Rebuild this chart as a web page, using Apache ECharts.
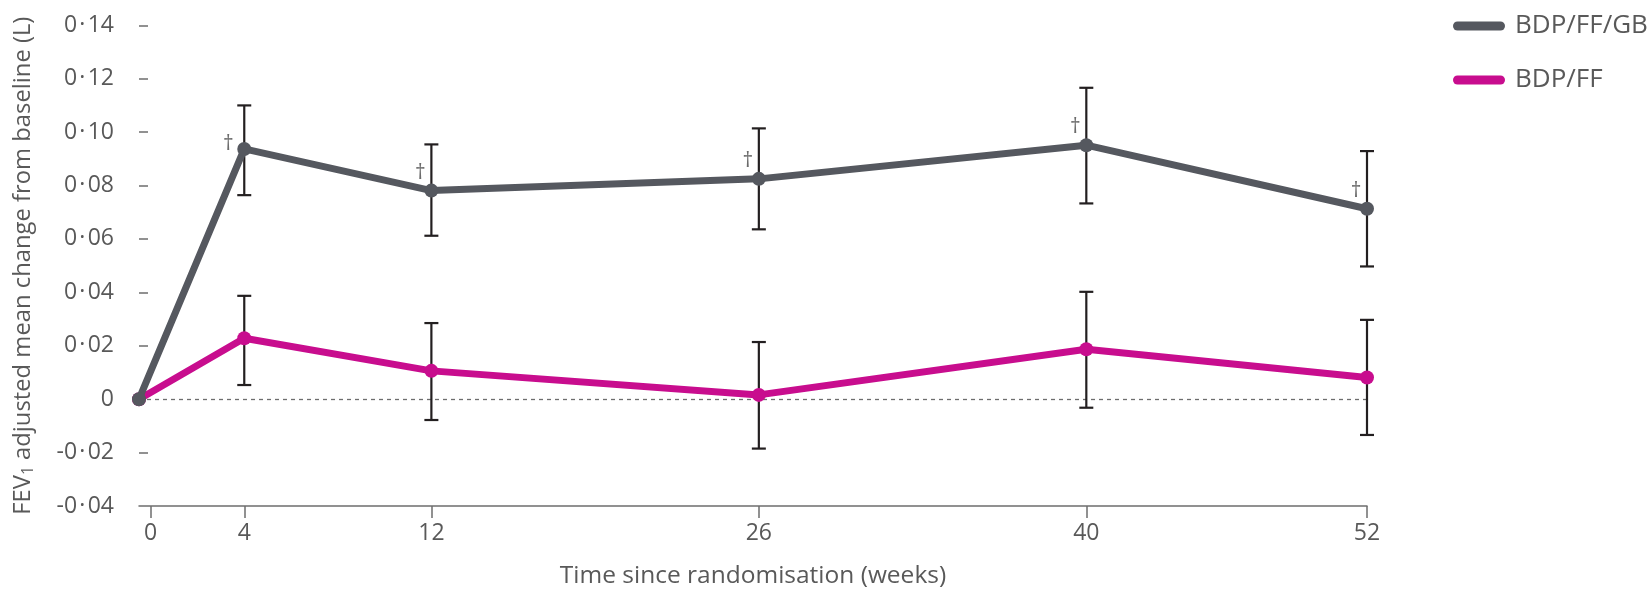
<!DOCTYPE html>
<html>
<head>
<meta charset="utf-8">
<script src="https://cdn.jsdelivr.net/npm/echarts@6/dist/echarts.min.js"></script>
<style>
  html, body { margin: 0; padding: 0; background: #fff; }
  #chart { width: 1650px; height: 594px; }
</style>
</head>
<body>
<div id="chart"></div>
<script>
// Visit weeks (0 = baseline at randomisation)
const weeks = [0, 4, 12, 26, 40, 52];
const xTickLabels = [0, 4, 12, 26, 40, 52];
const yTicks = [-0.04, -0.02, 0, 0.02, 0.04, 0.06, 0.08, 0.10, 0.12, 0.14];

// BDP/FF/GB: adjusted mean change in FEV1 (L) with 95% CI
const gbMean  = [0, 0.0937, 0.0781, 0.0825, 0.0951, 0.0713];
const gbLower = [null, 0.0764, 0.0612, 0.0636, 0.0733, 0.0497];
const gbUpper = [null, 0.1100, 0.0954, 0.1014, 0.1166, 0.0929];
const gbDagger = [false, true, true, true, true, true];

// BDP/FF
const ffMean  = [0, 0.0228, 0.0106, 0.0016, 0.0187, 0.0081];
const ffLower = [null, 0.0053, -0.0078, -0.0185, -0.0032, -0.0134];
const ffUpper = [null, 0.0387, 0.0285, 0.0214, 0.0402, 0.0297];

const seriesNames = ['BDP/FF/GB', 'BDP/FF'];
const colors = ['#55585f', '#c80d8e'];

const X_MIN = -0.5;
const FONT = '"Open Sans", "Noto Sans", sans-serif';
const TEXT = '#595959';

// the baseline point sits at the start of the time axis
const xOf = (w) => (w === 0 ? X_MIN : w);

function lineData(mean, dagger) {
  return weeks.map((w, i) => {
    const item = { value: [xOf(w), mean[i]] };
    if (dagger && dagger[i]) {
      item.label = {
        show: true,
        formatter: '\u2020',
        position: 'inside',
        offset: i === 1 ? [-16, -5] : [-11, -18],
        color: '#6b6b6b',
        fontSize: 21,
        fontFamily: FONT
      };
    }
    return item;
  });
}

function barData(lower, upper) {
  const out = [];
  weeks.forEach((w, i) => {
    if (lower[i] !== null) out.push([w, lower[i], upper[i]]);
  });
  return out;
}

function renderErrorBar(params, api) {
  const x = api.value(0);
  const lo = api.coord([x, api.value(1)]);
  const hi = api.coord([x, api.value(2)]);
  const cap = 7;
  const style = { stroke: '#231f20', lineWidth: 2.2 };
  return {
    type: 'group',
    children: [
      { type: 'line', shape: { x1: lo[0], y1: lo[1], x2: hi[0], y2: hi[1] }, style },
      { type: 'line', shape: { x1: lo[0] - cap, y1: lo[1], x2: lo[0] + cap, y2: lo[1] }, style },
      { type: 'line', shape: { x1: hi[0] - cap, y1: hi[1], x2: hi[0] + cap, y2: hi[1] }, style }
    ]
  };
}

const pill = 'path://M4.5,0 H47.5 A4.5,4.5 0 0 1 47.5,9 H4.5 A4.5,4.5 0 0 1 4.5,0 Z';

const chart = echarts.init(document.getElementById('chart'), null, { renderer: 'canvas' });

chart.setOption({
  animation: false,
  backgroundColor: '#ffffff',
  textStyle: { fontFamily: FONT },
  grid: { left: 139, right: 283, top: 25.3, bottom: 86.5 },
  legend: {
    orient: 'vertical',
    left: 1448,
    top: 6,
    itemWidth: 52,
    itemHeight: 9,
    itemGap: 24,
    icon: pill,
    data: seriesNames,
    textStyle: { color: TEXT, fontSize: 26, fontFamily: FONT, padding: [0, 0, 0, 5], lineHeight: 30 }
  },
  xAxis: {
    type: 'value',
    min: X_MIN,
    max: 52,
    name: 'Time since randomisation (weeks)',
    nameLocation: 'middle',
    nameGap: 58,
    nameTextStyle: { color: TEXT, fontSize: 24.5, fontFamily: FONT },
    axisLine: { show: true, onZero: false, lineStyle: { color: '#6e6e6e', width: 1.5 } },
    axisTick: { show: true, customValues: xTickLabels, length: 12, lineStyle: { color: '#6e6e6e', width: 1.5 } },
    axisLabel: { customValues: xTickLabels, color: TEXT, fontSize: 23, fontFamily: FONT, margin: 16 },
    splitLine: { show: false }
  },
  yAxis: {
    type: 'value',
    min: -0.04,
    max: 0.14,
    interval: 0.02,
    name: '{a|FEV}{s|1}{a| adjusted mean change from baseline (L)}',
    nameLocation: 'middle',
    nameGap: 102,
    nameTextStyle: {
      color: TEXT,
      fontFamily: FONT,
      rich: {
        a: { fontSize: 23.8, color: TEXT, fontFamily: FONT, lineHeight: 28 },
        s: { fontSize: 15.5, color: TEXT, fontFamily: FONT, lineHeight: 28, verticalAlign: 'bottom', padding: [10, 0, 0, 0] }
      }
    },
    axisLine: { show: false, onZero: false },
    axisTick: { show: true, inside: true, length: 9, customValues: yTicks.filter(v => v !== 0 && v !== -0.04), lineStyle: { color: '#6e6e6e', width: 1.5 } },
    axisLabel: {
      color: TEXT,
      fontSize: 23,
      fontFamily: FONT,
      margin: 25,
      formatter: (v) => {
        const r = Math.round(v * 100) / 100;
        if (r === 0) return '0';
        // decimal point written as a raised dot, with hair spaces either side
        return r.toFixed(2).replace('.', '\u200a\u00b7\u200a');
      }
    },
    splitLine: { show: false }
  },
  series: [
    {
      name: 'ci-gb',
      type: 'custom',
      renderItem: renderErrorBar,
      data: barData(gbLower, gbUpper),
      encode: { x: 0, y: [1, 2] },
      z: 1,
      silent: true
    },
    {
      name: 'ci-ff',
      type: 'custom',
      renderItem: renderErrorBar,
      data: barData(ffLower, ffUpper),
      encode: { x: 0, y: [1, 2] },
      z: 1,
      silent: true
    },
    {
      name: seriesNames[1],
      type: 'line',
      data: lineData(ffMean, null),
      color: colors[1],
      lineStyle: { width: 7, color: colors[1], cap: 'round', join: 'round' },
      symbol: 'circle',
      symbolSize: 14,
      itemStyle: { color: colors[1] },
      z: 3,
      markLine: {
        silent: true,
        symbol: 'none',
        label: { show: false },
        lineStyle: { type: [4, 4], color: '#6e6e6e', width: 1.3 },
        data: [{ yAxis: 0 }],
        z: 0
      }
    },
    {
      name: seriesNames[0],
      type: 'line',
      data: lineData(gbMean, gbDagger),
      color: colors[0],
      lineStyle: { width: 7, color: colors[0], cap: 'round', join: 'round' },
      symbol: 'circle',
      symbolSize: 14,
      itemStyle: { color: colors[0] },
      z: 4
    }
  ]
});
</script>
</body>
</html>
